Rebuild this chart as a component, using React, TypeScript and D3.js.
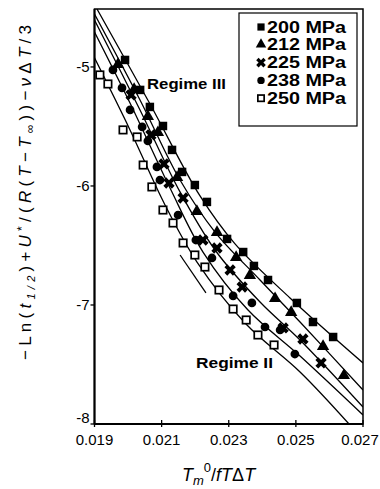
import React from "react";
import * as d3 from "d3";

const xTicks = [0.019, 0.021, 0.023, 0.025, 0.027];
const yTicks = [-8, -7, -6, -5];
const seriesNames = ["200 MPa", "212 MPa", "225 MPa", "238 MPa", "250 MPa"];

// measured points
const x200 = [0.01991, 0.02036, 0.02065, 0.02104, 0.02131, 0.02161, 0.02199, 0.02235, 0.02295, 0.02343, 0.02375, 0.02417, 0.02503, 0.02551, 0.02611];
const y200 = [-4.941, -5.193, -5.336, -5.496, -5.697, -5.882, -5.992, -6.134, -6.445, -6.555, -6.672, -6.79, -6.983, -7.143, -7.269];
const x212 = [0.0197, 0.02018, 0.02059, 0.02089, 0.02146, 0.02205, 0.02265, 0.02322, 0.02363, 0.02438, 0.02486, 0.02581, 0.02643];
const y212 = [-4.983, -5.193, -5.42, -5.555, -5.933, -6.218, -6.395, -6.605, -6.756, -6.95, -7.067, -7.353, -7.597];
const x225 = [0.02009, 0.02068, 0.02107, 0.02122, 0.02164, 0.02223, 0.02265, 0.02304, 0.0234, 0.02462, 0.02521, 0.02575];
const y225 = [-5.235, -5.571, -5.815, -5.975, -6.101, -6.454, -6.521, -6.706, -6.849, -7.193, -7.286, -7.487];
const x238 = [0.01955, 0.01982, 0.02006, 0.02042, 0.02059, 0.02086, 0.02095, 0.02149, 0.02202, 0.0225, 0.02313, 0.02369, 0.02408, 0.02453, 0.02497];
const y238 = [-5.025, -5.176, -5.361, -5.504, -5.622, -5.84, -5.95, -6.244, -6.454, -6.605, -6.924, -6.983, -7.185, -7.21, -7.412];
const x250 = [0.01916, 0.0194, 0.01985, 0.02027, 0.02045, 0.02071, 0.02104, 0.02134, 0.02164, 0.02199, 0.02229, 0.02271, 0.02313, 0.02352, 0.02387, 0.02435];
const y250 = [-5.067, -5.143, -5.529, -5.588, -5.824, -6.008, -6.202, -6.311, -6.479, -6.58, -6.681, -6.874, -7.034, -7.126, -7.252, -7.336];

// fitted curves
const fx200 = [0.019074, 0.020654, 0.022144, 0.023187, 0.024825, 0.027];
const fy200 = [-4.513, -5.311, -6.084, -6.487, -6.941, -7.487];
const fx212 = [0.019, 0.020356, 0.021548, 0.022591, 0.023932, 0.025124, 0.027];
const fy212 = [-4.555, -5.277, -5.95, -6.387, -6.79, -7.143, -7.714];
const fx225 = [0.019, 0.020356, 0.021548, 0.022591, 0.023932, 0.025124, 0.027];
const fy225 = [-4.605, -5.361, -6.05, -6.538, -6.975, -7.294, -7.857];
const fx238 = [0.019, 0.020058, 0.02125, 0.022233, 0.023574, 0.025124, 0.027];
const fy238 = [-4.706, -5.303, -6.017, -6.555, -7.042, -7.429, -7.924];
const fx250 = [0.019, 0.020058, 0.021101, 0.022054, 0.023514, 0.025124, 0.026583];
const fy250 = [-4.924, -5.529, -6.16, -6.639, -7.16, -7.563, -8.0];
const tangentX = [0.02155, 0.02232];
const tangentY = [-6.58, -6.899];

const W = 380, H = 489;
const L = 94.5, R = 363, T = 9, B = 424;

const zip = (xs: number[], ys: number[]) => xs.map((v, i) => [v, ys[i]] as [number, number]);

export default function App() {
  const x = d3.scaleLinear().domain([0.019, 0.027]).range([L, R]);
  const y = d3.scaleLinear().domain([-8, -4.513]).range([B, T]);
  const line = d3.line<[number, number]>().x(d => x(d[0])).y(d => y(d[1])).curve(d3.curveCatmullRom.alpha(0.5));
  const straight = d3.line<[number, number]>().x(d => x(d[0])).y(d => y(d[1]));

  const pts = [zip(x200, y200), zip(x212, y212), zip(x225, y225), zip(x238, y238), zip(x250, y250)];
  const fits = [zip(fx200, fy200), zip(fx212, fy212), zip(fx225, fy225), zip(fx238, fy238), zip(fx250, fy250)];

  const sq = d3.symbol().type(d3.symbolSquare).size(72)()!;
  const tri = d3.symbol().type(d3.symbolTriangle).size(66)()!;
  const cross = d3.symbol().type(d3.symbolCross).size(80)()!;
  const circ = d3.symbol().type(d3.symbolCircle).size(60)()!;

  const marker = (k: number, cx: number, cy: number, key: string, s = 1) => {
    const tr = `translate(${cx},${cy}) scale(${s})`;
    if (k === 0) return <path key={key} d={sq} transform={tr} fill="#000" />;
    if (k === 1) return <path key={key} d={tri} transform={tr + " translate(0,-0.5)"} fill="#000" />;
    if (k === 2) return <path key={key} d={cross} transform={tr + " rotate(45)"} fill="#000" />;
    if (k === 3) return <path key={key} d={circ} transform={tr} fill="#000" />;
    return <rect key={key} x={cx - 3.7 * s} y={cy - 3.7 * s} width={7.4 * s} height={7.4 * s} fill="#fff" stroke="#000" strokeWidth={1.7} />;
  };

  const font = "'Liberation Sans', Arial, sans-serif";

  return (
    <svg width={W} height={H} style={{ position: "absolute", left: 0, top: 0, background: "#fff" }} fontFamily={font}>
      <defs>
        <clipPath id="plot"><rect x={L} y={T} width={R - L} height={B - T} /></clipPath>
      </defs>
      <g clipPath="url(#plot)" fill="none" stroke="#000" strokeWidth={1.3}>
        {fits.map((f, i) => <path key={i} d={line(f)!} />)}
        <path d={straight(zip(tangentX, tangentY))!} />
      </g>
      {pts.map((s, k) => s.map((p, i) => marker(k, x(p[0]), y(p[1]), `${k}-${i}`)))}
      {/* frame */}
      <rect x={L} y={T} width={R - L} height={B - T} fill="none" stroke="#000" strokeWidth={1.5} />
      <line x1={L} x2={L} y1={T} y2={B} stroke="#000" strokeWidth={2} />
      <line x1={L} x2={R} y1={B} y2={B} stroke="#000" strokeWidth={2} />
      {/* x ticks */}
      {xTicks.map(t => (
        <g key={t}>
          <line x1={x(t)} x2={x(t)} y1={B - 4} y2={B + 3} stroke="#000" strokeWidth={1.3} />
          <text x={Math.min(x(t), 360)} y={B + 21} textAnchor="middle" fontSize={15}>{t.toFixed(3)}</text>
        </g>
      ))}
      {yTicks.map(t => (
        <g key={t}>
          <line x1={L - 4} x2={L} y1={y(t)} y2={y(t)} stroke="#000" strokeWidth={1.3} />
          <text x={L - 5} y={Math.min(y(t) + 5, B - 1)} textAnchor="end" fontSize={15}>{"-" + Math.abs(t)}</text>
        </g>
      ))}
      {/* region labels */}
      <text x={147} y={89} fontWeight="bold" fontSize={14} textLength={79} lengthAdjust="spacingAndGlyphs">Regime III</text>
      <text x={196} y={368} fontWeight="bold" fontSize={14} textLength={77} lengthAdjust="spacingAndGlyphs">Regime II</text>
      {/* legend */}
      <rect x={239} y={13} width={118} height={113} fill="#fff" stroke="#000" strokeWidth={1.2} />
      {seriesNames.map((n, k) => {
        const cy = 27 + k * 17.8;
        return (
          <g key={n}>
            {marker(k, 261, cy, "lg" + k, 0.85)}
            <text x={267} y={cy + 5.5} fontWeight="bold" fontSize={16} textLength={79} lengthAdjust="spacingAndGlyphs">{n}</text>
          </g>
        );
      })}
      {/* axis titles */}
      <text x={182} y={481} fontSize={18}>
        <tspan fontStyle="italic">T</tspan>
        <tspan fontStyle="italic" fontSize={13} dy={4}>m</tspan>
        <tspan fontSize={13} dy={-13}>0</tspan>
        <tspan dy={9}>/</tspan>
        <tspan fontStyle="italic">fT</tspan>
        <tspan>Δ</tspan>
        <tspan fontStyle="italic">T</tspan>
      </text>
      <text transform="translate(31,360) rotate(-90)" fontSize={17} textLength={335}>
        <tspan>−Ln(</tspan>
        <tspan fontStyle="italic">t</tspan>
        <tspan fontSize={11} dy={4} fontStyle="italic">1/2</tspan>
        <tspan dy={-4}>)+</tspan>
        <tspan fontStyle="italic">U</tspan>
        <tspan fontSize={12} dy={-5}>*</tspan>
        <tspan dy={5}>/(</tspan>
        <tspan fontStyle="italic">R</tspan>
        <tspan>(</tspan>
        <tspan fontStyle="italic">T</tspan>
        <tspan>−</tspan>
        <tspan fontStyle="italic">T</tspan>
        <tspan fontSize={12} dy={3}>∞</tspan>
        <tspan dy={-3}>))−</tspan>
        <tspan fontStyle="italic">ν</tspan>
        <tspan>Δ</tspan>
        <tspan fontStyle="italic">T</tspan>
        <tspan>/3</tspan>
      </text>
    </svg>
  );
}
